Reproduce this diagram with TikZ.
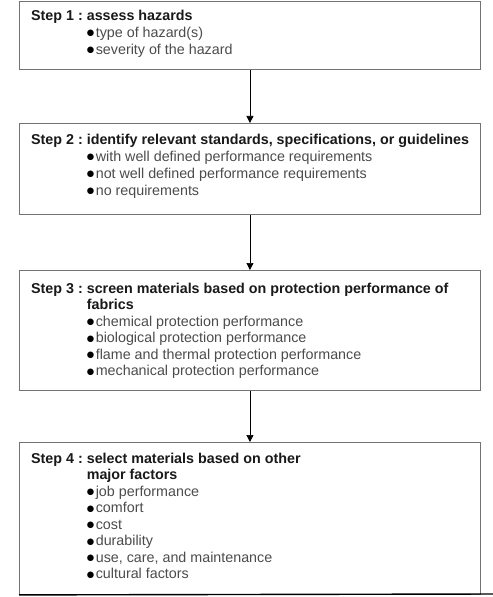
\documentclass[tikz,border=0pt]{standalone}
\usepackage{fontspec}
\setmainfont{Liberation Sans}
\newfontfamily\symf{DejaVu Sans}
\usepackage{array}
\usetikzlibrary{arrows.meta}
\definecolor{boxline}{gray}{0.45}
\definecolor{headtxt}{gray}{0.1}
\definecolor{itemtxt}{gray}{0.3}
\newcommand{\bul}{\makebox[9bp][l]{\raisebox{1.6bp}{\textcolor{black}{\symf\fontsize{8.5bp}{8.5bp}\selectfont ●}}}}
\newcommand{\hd}[1]{\textbf{\textcolor{headtxt}{#1}}}
\newcommand{\itm}[1]{\bul\textcolor{itemtxt}{#1}}
\begin{document}
\begin{tikzpicture}[x=1bp,y=-1bp,
  stepbox/.style={draw=boxline,line width=0.9bp,inner sep=0pt},
  content/.style={anchor=north west,inner sep=0pt,font=\fontsize{14.3bp}{17bp}\selectfont},
  flow/.style={draw=black,line width=0.7bp,-{Triangle[length=7bp,width=7bp]}}]
\useasboundingbox (0,0) rectangle (493,597);
\fill[white] (0,0) rectangle (493,597);
% boxes
\node[stepbox,minimum width=461bp,minimum height=68bp,anchor=north west] (b1) at (19,1) {};
\node[stepbox,minimum width=461bp,minimum height=91bp,anchor=north west] (b2) at (19,123) {};
\node[stepbox,minimum width=461bp,minimum height=120bp,anchor=north west] (b3) at (19,270) {};
\node[stepbox,minimum width=461bp,minimum height=152bp,anchor=north west] (b4) at (19,442) {};
% contents
\node[content] (t1) at (31,8.1) {\begin{tabular}{@{}l@{}l@{}}
\hd{Step 1 :\ } & \hd{assess hazards}\\
 & \itm{type of hazard(s)}\\
 & \itm{severity of the hazard}
\end{tabular}};
\node[content] (t2) at (31,132.1) {\begin{tabular}{@{}l@{}l@{}}
\hd{Step 2 :\ } & \hd{identify relevant standards, specifications, or guidelines}\\
 & \itm{with well defined performance requirements}\\
 & \itm{not well defined performance requirements}\\
 & \itm{no requirements}
\end{tabular}};
\node[content,font=\fontsize{14.3bp}{16.5bp}\selectfont] (t3) at (31,281.5) {\begin{tabular}{@{}l@{}l@{}}
\hd{Step 3 :\ } & \hd{screen materials based on protection performance of}\\
 & \hd{fabrics}\\
 & \itm{chemical protection performance}\\
 & \itm{biological protection performance}\\
 & \itm{flame and thermal protection performance}\\
 & \itm{mechanical protection performance}
\end{tabular}};
\node[content,font=\fontsize{14.3bp}{16.5bp}\selectfont] (t4) at (31,451.5) {\begin{tabular}{@{}l@{}l@{}}
\hd{Step 4 :\ } & \hd{select materials based on other}\\
 & \hd{major factors}\\
 & \itm{job performance}\\
 & \itm{comfort}\\
 & \itm{cost}\\
 & \itm{durability}\\
 & \itm{use, care, and maintenance}\\
 & \itm{cultural factors}
\end{tabular}};
% connectors
\draw[flow] (b1.south) -- (b2.north);
\draw[flow] (b2.south) -- (b3.north);
\draw[flow] (b3.south) -- (b4.north);
\coordinate (edge) at (493,594);
\draw[black,line width=1.4bp] (b4.south west) -- (edge);
\end{tikzpicture}
\end{document}
